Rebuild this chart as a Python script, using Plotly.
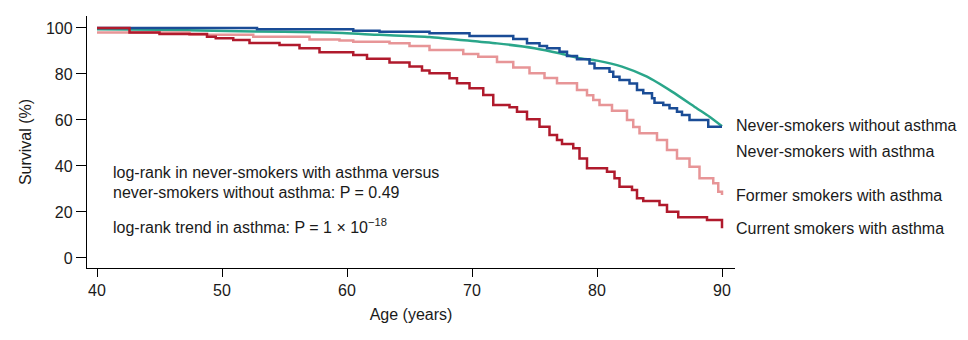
import plotly.graph_objects as go

# Kaplan-Meier survival (%) by age, four groups
never_no_asthma_age = [40, 45, 51.4, 58.6, 62.6, 66.6, 70.6, 72.0, 75.0, 77.0, 78.5, 80.0,
                       82.0, 84.0, 86.0, 88.0, 89.0, 90.0]
never_no_asthma_surv = [99.4, 99.2, 98.6, 98.0, 97.0, 96.1, 94.0, 93.3, 91.2, 89.0, 87.0, 85.8,
                        83.2, 78.8, 72.3, 65.0, 61.4, 57.3]

never_asthma_age = [40, 52.8, 60.5, 62.6, 66.6, 69.8, 73.3, 74.4, 75.4, 76.0, 77.0, 77.6,
                    78.4, 79.4, 79.8, 81.0, 81.3, 81.8, 82.6, 83.2, 83.7, 84.4, 84.6,
                    85.3, 85.8, 86.4, 86.8, 87.4, 88.9, 90.0]
never_asthma_surv = [100, 99.4, 98.8, 98.4, 97.7, 96.5, 95.2, 93.3, 92.2, 91.2, 89.7, 87.8,
                     86.4, 84.6, 82.5, 81.0, 78.8, 77.4, 75.9, 73.0, 71.6, 69.4, 67.5,
                     66.5, 65.1, 63.6, 62.2, 60.0, 57.1, 57.1]

former_age = [40, 47.4, 52.5, 57.0, 59.4, 60.5, 63.4, 65.0, 66.6, 69.3, 70.5, 72.0, 73.3,
              74.6, 75.8, 76.8, 78.4, 79.2, 79.7, 80.2, 81.2, 82.4, 82.9, 83.4, 84.8,
              85.6, 86.4, 87.4, 88.2, 89.3, 89.7, 90.0]
former_surv = [98.0, 97.0, 96.2, 95.0, 94.6, 94.0, 93.3, 92.2, 90.4, 88.7, 87.5, 85.2, 82.8,
               80.3, 78.2, 76.0, 73.0, 70.8, 68.7, 66.5, 64.0, 60.0, 57.0, 54.2, 51.3,
               47.0, 43.3, 39.7, 34.7, 32.5, 28.8, 27.4]

current_age = [40, 42.6, 45.0, 48.8, 49.5, 50.9, 52.2, 54.6, 56.2, 57.8, 60.5, 61.6, 63.4,
               65.0, 66.0, 66.6, 68.2, 68.8, 69.8, 70.9, 71.7, 73.0, 73.6, 74.4, 75.4,
               76.2, 76.8, 77.2, 78.1, 78.6, 79.2, 80.8, 81.4, 81.8, 82.8, 83.2, 83.7,
               85.0, 85.6, 86.5, 88.8, 90.0, 90.0]
current_surv = [100, 98.0, 97.4, 96.2, 95.5, 94.8, 93.5, 92.6, 91.2, 89.4, 88.2, 86.6, 85.0,
                83.2, 81.5, 80.3, 78.1, 76.0, 73.8, 70.9, 66.5, 65.5, 63.6, 60.3, 57.1,
                53.5, 51.3, 49.6, 47.7, 43.3, 39.0, 37.5, 34.7, 31.0, 29.6, 26.0, 24.8,
                23.0, 20.1, 17.7, 16.5, 15.8, 12.9]

group_labels = ["Never-smokers without asthma", "Never-smokers with asthma",
                "Former smokers with asthma", "Current smokers with asthma"]
x_ticks = [40, 50, 60, 70, 80, 90]
y_ticks = [0, 20, 40, 60, 80, 100]

GREEN = "#2aa68a"
BLUE = "#1a4c96"
PINK = "#e79597"
RED = "#b01a2c"
TEXT = "#1a1a1a"
FONT = "Liberation Sans, Arial, Helvetica, sans-serif"
FS = 16

fig = go.Figure()
fig.add_trace(go.Scatter(x=never_no_asthma_age, y=never_no_asthma_surv, mode="lines",
                         line=dict(color=GREEN, width=2.5, shape="spline", smoothing=0.6),
                         name=group_labels[0]))
fig.add_trace(go.Scatter(x=former_age, y=former_surv, mode="lines",
                         line=dict(color=PINK, width=2.5, shape="hv"),
                         name=group_labels[2]))
fig.add_trace(go.Scatter(x=never_asthma_age, y=never_asthma_surv, mode="lines",
                         line=dict(color=BLUE, width=2.5, shape="hv"),
                         name=group_labels[1]))
fig.add_trace(go.Scatter(x=current_age, y=current_surv, mode="lines",
                         line=dict(color=RED, width=2.5, shape="hv"),
                         name=group_labels[3]))

# Group labels at the right-hand end of the curves
label_y = [0.565, 0.4615, 0.286, 0.1575]
annotations = []
for text, yy in zip(group_labels, label_y):
    annotations.append(dict(text=text, xref="paper", yref="paper", x=0.9985, y=yy,
                            xanchor="left", yanchor="middle", showarrow=False,
                            font=dict(size=FS, color=TEXT, family=FONT)))

stats_lines = [
    ("log-rank in never-smokers with asthma versus", 0.377),
    ("never-smokers without asthma: P = 0.49", 0.298),
    ("log-rank trend in asthma: P = 1 \u00d7 10<sup>\u221218</sup>", 0.167),
]
for text, yy in stats_lines:
    annotations.append(dict(text=text, xref="paper", yref="paper", x=0.037, y=yy,
                            xanchor="left", yanchor="middle", showarrow=False,
                            font=dict(size=FS, color=TEXT, family=FONT)))

fig.update_layout(
    width=968, height=340,
    margin=dict(l=87, r=233, t=16, b=72),
    paper_bgcolor="white", plot_bgcolor="white",
    showlegend=False,
    font=dict(family=FONT, color=TEXT, size=FS),
    annotations=annotations,
    xaxis=dict(range=[39.2, 91.04], tickvals=x_ticks, ticks="outside", ticklen=8,
               tickwidth=1.3, tickcolor="black", showline=True, linecolor="black",
               linewidth=1.3, showgrid=False, zeroline=False,
               tickfont=dict(size=FS, color=TEXT),
               title=dict(text="Age (years)", font=dict(size=FS, color=TEXT), standoff=10)),
    yaxis=dict(range=[-4.35, 105.2], tickvals=y_ticks, ticks="outside", ticklen=10,
               tickwidth=1.3, tickcolor="black", showline=True, linecolor="black",
               linewidth=1.3, showgrid=False, zeroline=False,
               tickfont=dict(size=FS, color=TEXT),
               title=dict(text="Survival (%)", font=dict(size=FS, color=TEXT), standoff=10)),
)

fig.write_html("out.html")
